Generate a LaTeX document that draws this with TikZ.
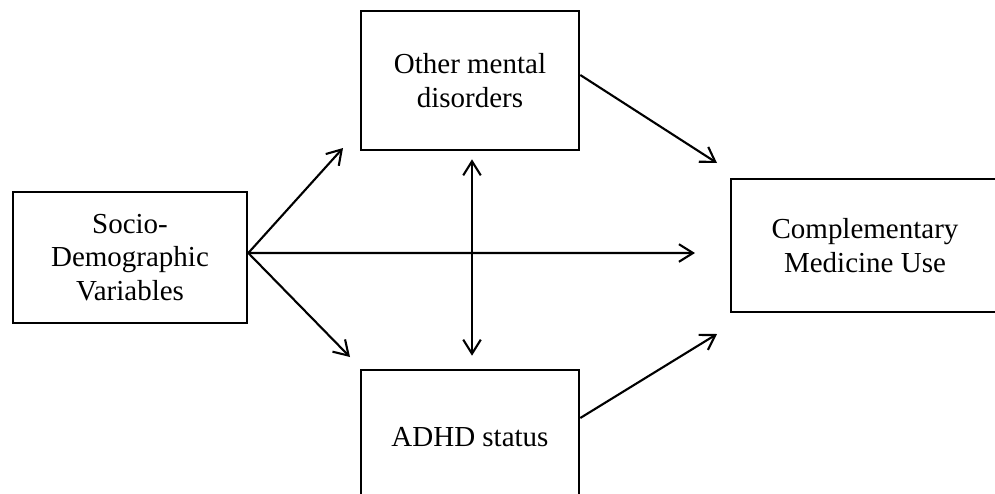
\documentclass[tikz,border=0pt]{standalone}
\usepackage{fontspec}
\setmainfont{Liberation Serif}
\usetikzlibrary{arrows.meta}

\begin{document}
\begin{tikzpicture}[x=0.02cm, y=-0.02cm,
		box/.style={draw, line width=1.5pt, align=center, inner sep=0pt,
			font=\fontsize{16.5}{19}\selectfont},
		link/.style={line width=1.2pt, -{Straight Barb[length=8pt,width=10pt,line width=1.2pt]}},
		both/.style={line width=1.2pt, {Straight Barb[length=8pt,width=10pt,line width=1.2pt]}-{Straight Barb[length=8pt,width=10pt,line width=1.2pt]}}]
		\useasboundingbox (0,0) rectangle (995,494);
		\node [box, minimum width=4.68cm, minimum height=2.62cm] (socio) at (130,257.5) {Socio-\\Demographic\\Variables};
		\node [box, minimum width=4.36cm, minimum height=2.78cm] (other) at (470,80.5) {Other mental\\disorders};
		\node [box, minimum width=4.36cm, minimum height=2.68cm] (adhd) at (470,437) {ADHD status};
		\node [box, minimum width=5.36cm, minimum height=2.66cm] (comp) at (865,245.5) {Complementary\\Medicine Use};
		\coordinate (tipother) at (343,148);
		\coordinate (tipadhd) at (350,357);
		\coordinate (tipcomp) at (695,253);
		\coordinate (tipcompa) at (717,163);
		\coordinate (tipcompb) at (717,334);
		\draw [link] ([yshift=0.09cm]socio.east) -- (tipother);
		\draw [link] ([yshift=0.09cm]socio.east) -- (tipadhd);
		\draw [link] ([yshift=0.09cm]socio.east) -- (tipcomp);
		\draw [both, shorten <=0.16cm, shorten >=0.26cm] ([xshift=0.04cm]other.south) -- ([xshift=0.04cm]adhd.north);
		\draw [link] ([yshift=0.11cm]other.east) -- (tipcompa);
		\draw [link] ([yshift=0.38cm]adhd.east) -- (tipcompb);
\end{tikzpicture}
\end{document}
